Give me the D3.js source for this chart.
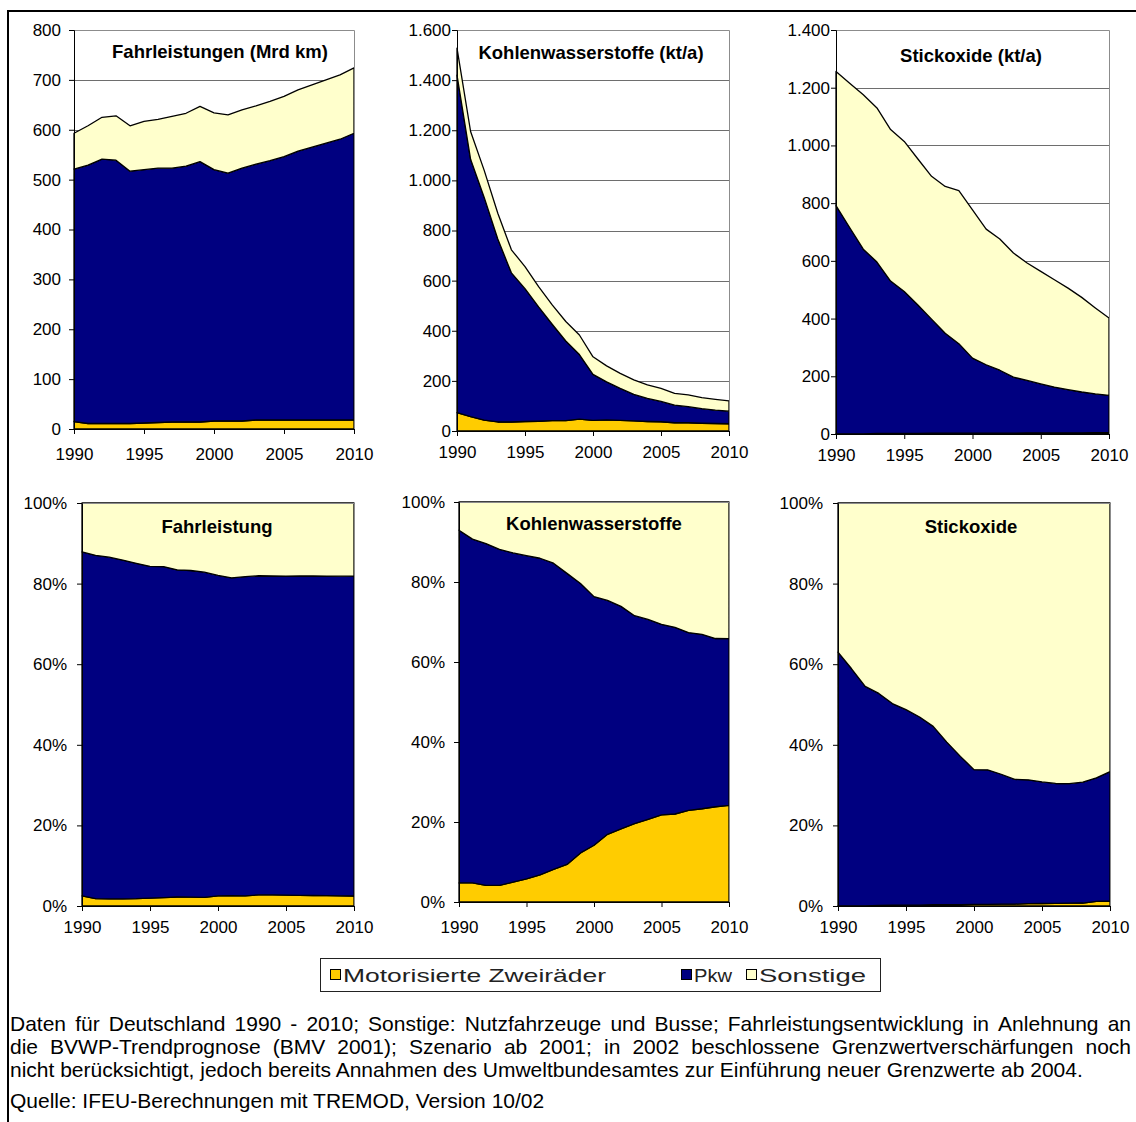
<!DOCTYPE html>
<html><head><meta charset="utf-8">
<script src="https://cdn.jsdelivr.net/npm/d3@7"></script>
<style>
body{margin:0;background:#fff;}
svg{display:block;font-family:Arial,"Liberation Sans",Helvetica,sans-serif;}
</style></head><body>
<svg id="chart" width="1136" height="1122"></svg>
<script>
// ---------- data ----------
const years = [1990,1991,1992,1993,1994,1995,1996,1997,1998,1999,2000,2001,2002,2003,2004,2005,2006,2007,2008,2009,2010];
const seriesNames = ["Motorisierte Zweiräder","Pkw","Sonstige"];
const seriesColors = ["#FFCC00","#000080","#FFFFCC"];

// Fahrleistungen (Mrd km)
const flZweirad  = [15,11,11,11,11,12,13,14,14,14,16,16,16,18,18,18,18,18,18,18,18];
const flPkw      = [506,518,530,528,506,508,510,509,513,522,504,497,507,513,520,528,539,547,555,563,575];
const flSonstige = [72,79,84,89,91,97,98,104,106,111,114,117,117,117,119,121,123,125,127,129,131];

// Kohlenwasserstoffe (kt/a)
const hcZweirad  = [73,57,43,36,36,38,39,41,41,47,42,44,42,40,38,37,33,33,31,30,29];
const hcPkw      = [1347,1027,889,730,595,530,456,385,318,258,184,152,128,106,92,81,70,64,58,53,50];
const hcSonstige = [108,111,108,103,92,88,81,77,78,78,70,64,60,58,54,52,47,47,44,43,41];

// Stickoxide (kt/a)
const noxZweirad  = [0.5,0.5,0.5,2,2,2,2,3,3,3,3,3,3,3,3.5,3.5,3.5,3.5,3.5,5,5];
const noxPkw      = [791,715,640,594,528,492,445,395,346,310,260,237,218,194,182,170,159,150,142,134,129];
const noxSonstige = [465,500,535,534,525,520,506,495,509,530,514,470,455,430,407,390,372,352,328,298,268];

// tick values
const xTickYears = [1990,1995,2000,2005,2010];
const yTicksFL  = [0,100,200,300,400,500,600,700,800];
const yTicksHC  = [0,200,400,600,800,1000,1200,1400,1600];
const yTicksNOX = [0,200,400,600,800,1000,1200,1400];
const yTicksPct = [0,0.2,0.4,0.6,0.8,1.0];

const titles = ["Fahrleistungen (Mrd km)","Kohlenwasserstoffe (kt/a)","Stickoxide (kt/a)",
                "Fahrleistung","Kohlenwasserstoffe","Stickoxide"];

const footLines = [
 "Daten für Deutschland 1990 - 2010; Sonstige: Nutzfahrzeuge und Busse; Fahrleistungsentwicklung in Anlehnung an",
 "die BVWP-Trendprognose (BMV 2001); Szenario ab 2001; in 2002 beschlossene Grenzwertverschärfungen noch",
 "nicht berücksichtigt, jedoch bereits Annahmen des Umweltbundesamtes zur Einführung neuer Grenzwerte ab 2004."
];
const sourceLine = "Quelle: IFEU-Berechnungen mit TREMOD, Version 10/02";

// ---------- helpers ----------
const de = d3.formatLocale({decimal:",", thousands:".", grouping:[3], currency:["","€"]});
const fmtNum = de.format(",d");
const fmtPct = d3.format(".0%");

function table(a,b,c){ return years.map((y,i)=>({year:y, k0:a[i], k1:b[i], k2:c[i]})); }

const panels = [
 {rows:table(flZweirad,flPkw,flSonstige),   pct:false, ticks:yTicksFL,  max:800,  x0:74,  x1:354,  top:30,  bot:429, pad:8, tx:220, ty:58, xl:454},
 {rows:table(hcZweirad,hcPkw,hcSonstige),   pct:false, ticks:yTicksHC,  max:1600, x0:457, x1:729,  top:30,  bot:431, pad:1, tx:591, ty:59, xl:452},
 {rows:table(noxZweirad,noxPkw,noxSonstige),pct:false, ticks:yTicksNOX, max:1400, x0:836, x1:1109, top:30,  bot:434, pad:1, tx:971, ty:62, xl:455},
 {rows:table(flZweirad,flPkw,flSonstige),   pct:true,  ticks:yTicksPct, max:1,    x0:82,  x1:354,  top:503, bot:906, pad:10, tx:217, ty:533, xl:927},
 {rows:table(hcZweirad,hcPkw,hcSonstige),   pct:true,  ticks:yTicksPct, max:1,    x0:459, x1:729,  top:502, bot:902, pad:9, tx:594, ty:530, xl:927},
 {rows:table(noxZweirad,noxPkw,noxSonstige),pct:true,  ticks:yTicksPct, max:1,    x0:838, x1:1110, top:503, bot:906, pad:10, tx:971, ty:533, xl:927}
];

const svg = d3.select("#chart");
svg.append("rect").attr("width",1136).attr("height",1122).attr("fill","#fff");

// outer frame
svg.append("line").attr("x1",8).attr("x2",1136).attr("y1",11).attr("y2",11).attr("stroke","#000").attr("stroke-width",2);
svg.append("line").attr("x1",8).attr("x2",8).attr("y1",10).attr("y2",1122).attr("stroke","#000").attr("stroke-width",2);

panels.forEach((p,pi)=>{
  const g = svg.append("g");
  const x = d3.scaleLinear().domain([years[0], years[years.length-1]]).range([p.x0,p.x1]);
  const y = d3.scaleLinear().domain([0,p.max]).range([p.bot,p.top]);
  const stack = d3.stack().keys(["k0","k1","k2"]);
  if(p.pct) stack.offset(d3.stackOffsetExpand);
  const layers = stack(p.rows);

  g.append("rect").attr("x",p.x0).attr("y",p.top).attr("width",p.x1-p.x0).attr("height",p.bot-p.top).attr("fill","#fff");
  g.selectAll("line.grid").data(p.ticks.filter(t=>t>0 && t<p.max)).join("line")
    .attr("x1",p.x0).attr("x2",p.x1).attr("y1",d=>Math.round(y(d))+0.5).attr("y2",d=>Math.round(y(d))+0.5)
    .attr("stroke","#6e6e6e").attr("stroke-width",1);

  const area = d3.area().x(d=>x(d.data.year)).y0(d=>y(d[0])).y1(d=>y(d[1]));
  g.selectAll("path.layer").data(layers).join("path")
    .attr("d",area).attr("fill",(d,i)=>seriesColors[i])
    .attr("stroke","#000").attr("stroke-width",1.3).attr("stroke-linejoin","round");

  g.append("path").attr("d",`M${p.x0},${p.top+0.5}H${p.x1+0.5}V${p.bot}`).attr("fill","none").attr("stroke","#8c8c8c").attr("stroke-width",1);

  const ya = d3.axisLeft(y).tickValues(p.ticks).tickSize(5).tickPadding(p.pad)
     .tickFormat(p.pct ? fmtPct : fmtNum);
  const yg = g.append("g").attr("transform",`translate(${p.x0},0)`).call(ya);
  yg.select(".domain").attr("stroke","#000");
  yg.selectAll("line").attr("stroke","#000");
  yg.selectAll("text").attr("font-size",17).attr("fill","#000").attr("font-family","Arial, 'Liberation Sans', sans-serif");

  const xa = d3.axisBottom(x).tickValues(xTickYears).tickSize(5).tickFormat(d3.format("d"));
  const xg = g.append("g").attr("transform",`translate(0,${p.bot})`).call(xa);
  xg.select(".domain").attr("stroke","#000");
  xg.selectAll("line").attr("stroke","#000");
  xg.selectAll("text").attr("font-size",17).attr("fill","#000").attr("font-family","Arial, 'Liberation Sans', sans-serif")
    .attr("y",p.xl-p.bot).attr("dy","0.35em");

  g.append("text").attr("x",p.tx).attr("y",p.ty).attr("text-anchor","middle")
    .attr("font-weight","bold").attr("font-size",18.5).attr("fill","#000").text(titles[pi]);
});

// ---------- legend ----------
const lg = svg.append("g");
lg.append("rect").attr("x",320.5).attr("y",958.5).attr("width",560).attr("height",33).attr("fill","#fff").attr("stroke","#222").attr("stroke-width",1);
const legItems = [
  {sq:330, tx:343, w:263},
  {sq:681, tx:694, w:38},
  {sq:746, tx:759, w:107}
];
legItems.forEach((it,i)=>{
  lg.append("rect").attr("x",it.sq+0.5).attr("y",969.5).attr("width",10).attr("height",10)
    .attr("fill",seriesColors[i]).attr("stroke","#000").attr("stroke-width",1);
  lg.append("text").attr("x",it.tx).attr("y",981.5).attr("font-size",19)
    .attr("font-family","'Liberation Sans Narrow','Arial Narrow',Arial,sans-serif")
    .attr("fill","#222").attr("textLength",it.w).attr("lengthAdjust","spacingAndGlyphs").text(seriesNames[i]);
});

// ---------- footnote ----------
const fg = svg.append("g").attr("font-size",21).attr("fill","#000");
const footY = [1031,1054,1077];
footLines.forEach((line,li)=>{
  const yv = footY[li];
  if(li<2){
    const words = line.split(" ");
    const nodes = words.map(w=>fg.append("text").attr("y",yv).text(w));
    const widths = nodes.map(n=>n.node().getComputedTextLength());
    const gap = Math.max(2,(1131-10-d3.sum(widths))/(words.length-1));
    let xx = 10;
    nodes.forEach((n,i)=>{ n.attr("x",xx); xx += widths[i]+gap; });
  } else {
    fg.append("text").attr("x",10).attr("y",yv).text(line);
  }
});
fg.append("text").attr("x",10).attr("y",1108).text(sourceLine);
</script>
</body></html>
